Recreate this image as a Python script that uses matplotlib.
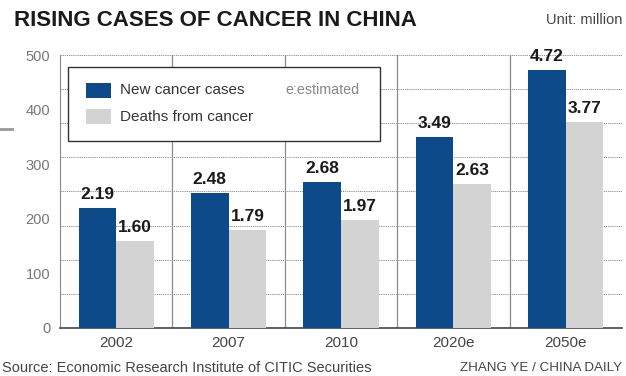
import numpy as np
import matplotlib.pyplot as plt
from matplotlib.patches import Rectangle
from matplotlib.lines import Line2D

# data (unit: million)
years = ['2002', '2007', '2010', '2020e', '2050e']
new_cases = [2.19, 2.48, 2.68, 3.49, 4.72]
deaths = [1.60, 1.79, 1.97, 2.63, 3.77]

blue = '#0c4a8a'
grey = '#d3d3d3'

plt.rcParams['font.family'] = ['Liberation Sans', 'DejaVu Sans']

fig = plt.figure(figsize=(6.26, 3.76), dpi=100)
ax = fig.add_axes([0.0958, 0.1277, 0.8978, 0.726])

x = np.arange(len(years))
w = 0.335
# bars are drawn on the 0-500 axis at value*100
ax.bar(x - w / 2, np.array(new_cases) * 100, w, color=blue, zorder=3)
ax.bar(x + w / 2, np.array(deaths) * 100, w, color=grey, zorder=3)

for xi, v in zip(x, new_cases):
    ax.text(xi - w / 2, v * 100 + 11, f'{v:.2f}', ha='center', va='bottom',
            fontsize=12.5, fontweight='bold', color='#1a1a1a', zorder=4)
for xi, v in zip(x, deaths):
    ax.text(xi + w / 2, v * 100 + 11, f'{v:.2f}', ha='center', va='bottom',
            fontsize=12.5, fontweight='bold', color='#1a1a1a', zorder=4)

ax.set_xlim(-0.5, len(years) - 0.5)
ax.set_ylim(0, 500)
ax.set_yticks([0, 100, 200, 300, 400, 500])
ax.set_xticks(x)
ax.set_xticklabels(years)
ax.tick_params(axis='x', length=0, labelsize=11, colors='#444444', pad=6)
ax.tick_params(axis='y', length=0, labelsize=10.5, colors='#777777', pad=7)

# dotted horizontal grid (8 divisions) and solid group separators
for gy in np.linspace(0, 500, 9)[1:]:
    ax.axhline(gy, color='#8c8c8c', lw=0.7, ls=(0, (1.2, 1)), zorder=1)
for gx in x[:-1] + 0.5:
    ax.axvline(gx, color='#8c8c8c', lw=0.9, zorder=1)

for s in ['top', 'right']:
    ax.spines[s].set_visible(False)
ax.spines['left'].set_color('#8c8c8c')
ax.spines['bottom'].set_color('#444444')
ax.spines['bottom'].set_linewidth(1.2)

# legend box
lx0, ly0 = 68 / 626, 1 - 141 / 376
box = Rectangle((lx0, ly0), (380 - 68) / 626, 74 / 376, transform=fig.transFigure,
                facecolor='white', edgecolor='#333333', lw=1.0, zorder=5)
fig.patches.append(box)
fig.patches.append(Rectangle((86 / 626, 1 - 98 / 376), 25 / 626, 15 / 376,
                             transform=fig.transFigure, facecolor=blue, zorder=6))
fig.patches.append(Rectangle((86 / 626, 1 - 124 / 376), 25 / 626, 15 / 376,
                             transform=fig.transFigure, facecolor=grey, zorder=6))
fig.text(120 / 626, 1 - 90 / 376, 'New cancer cases', fontsize=11, va='center',
         color='#333333', zorder=7)
fig.text(120 / 626, 1 - 117 / 376, 'Deaths from cancer', fontsize=11, va='center',
         color='#333333', zorder=7)
fig.text(285 / 626, 1 - 90 / 376, 'e:estimated', fontsize=10.3, va='center',
         color='#888888', zorder=7)

# titles and credits
fig.text(14 / 626, 1 - 20 / 376, 'RISING CASES OF CANCER IN CHINA', fontsize=16,
         fontweight='bold', va='center', color='#1a1a1a')
fig.text(622 / 626, 1 - 20 / 376, 'Unit: million', fontsize=10.5, ha='right',
         va='center', color='#444444')
fig.text(2 / 626, 1 - 368 / 376, 'Source: Economic Research Institute of CITIC Securities',
         fontsize=10.5, va='center', color='#444444')
fig.text(622 / 626, 1 - 368 / 376, 'ZHANG YE / CHINA DAILY', fontsize=9.6, ha='right',
         va='center', color='#444444')
fig.lines.append(Line2D([0, 12 / 626], [1 - 129 / 376] * 2, transform=fig.transFigure,
                        color='#999999', lw=2))

fig.savefig('out.png', dpi=100)
